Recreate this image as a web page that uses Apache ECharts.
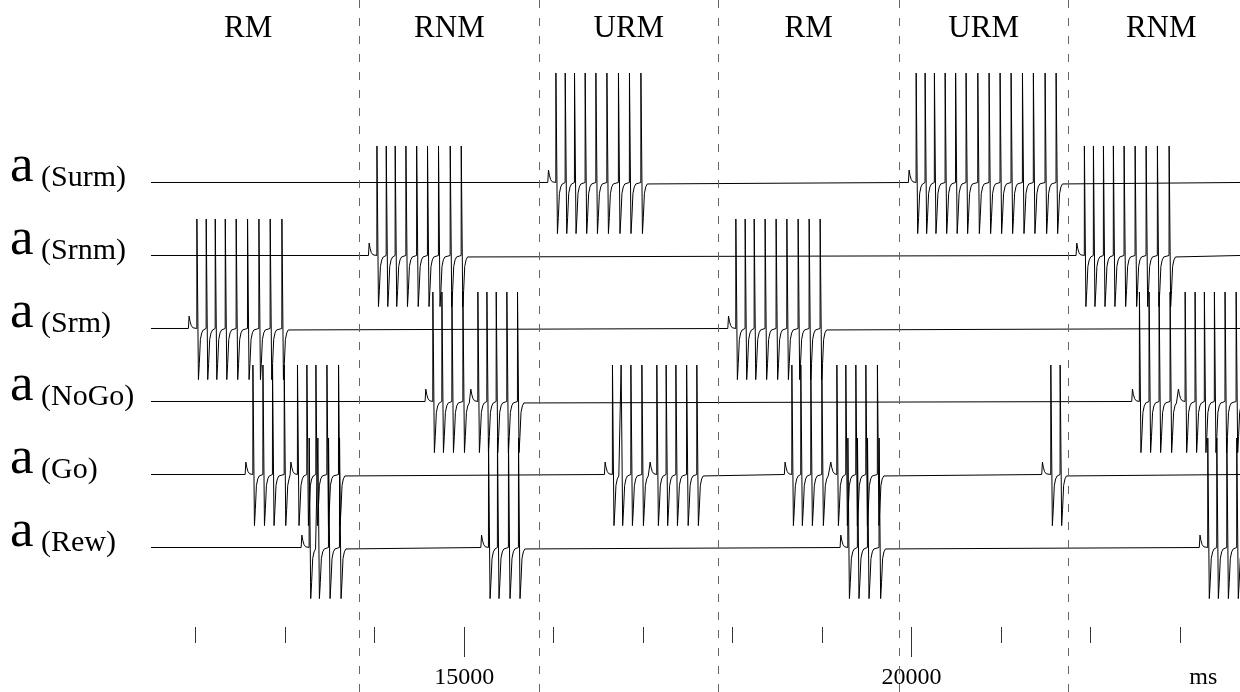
<!DOCTYPE html>
<html>
<head>
<meta charset="utf-8">
<script src="https://cdn.jsdelivr.net/npm/echarts@6/dist/echarts.min.js"></script>
<style>
  html, body { margin: 0; padding: 0; background: #fff; }
  #chart { width: 1240px; height: 692px; }
</style>
</head>
<body>
<div id="chart"></div>
<script>
//== time window (ms) shown on the x axis
var tStart = 11500;
var tEnd = 23670;

//== rows, top to bottom
var rowNames = ['Surm', 'Srnm', 'Srm', 'NoGo', 'Go', 'Rew'];

//== trials: names and their edges (ms)
var trialNames = ['RM', 'RNM', 'URM', 'RM', 'URM', 'RNM'];
var trialEdges = [11340, 13830, 15840, 17840, 19860, 21750, 23830];

//== axis ticks (ms)
var tickTimes = [12000, 13000, 14000, 15000, 16000, 17000, 18000, 19000, 20000, 21000, 22000, 23000];
var labelTimes = [15000, 20000];
var unitLabelTime = 23260;

//== spike times (ms), one list per row
var spikesSurm = [16024, 16128, 16232, 16351, 16471, 16594, 16723, 16846, 16974,
    20050, 20150, 20254, 20374, 20491, 20608, 20739, 20865, 20988, 21111, 21238, 21360, 21491, 21614];
var spikesSrnm = [14024, 14128, 14228, 14348, 14468, 14589, 14712, 14843, 14966,
    21930, 22031, 22143, 22254, 22374, 22497, 22620, 22746, 22877];
var spikesSrm = [12012, 12116, 12217, 12329, 12451, 12578, 12705, 12831, 12962,
    18035, 18139, 18240, 18362, 18485, 18605, 18731, 18854, 18977];
var spikesNoGo = [14649, 14750, 14862, 14985, 15152, 15253, 15357, 15476, 15595,
    22545, 22653, 22765, 22888, 23056, 23167, 23271, 23383, 23502, 23626];
var spikesGo = [12638, 12750, 12857, 12988, 13136, 13241, 13342, 13465, 13595,
    16656, 16753, 16862, 16985, 17152, 17256, 17365, 17485, 17599,
    18661, 18761, 18873, 18996, 19164, 19264, 19376, 19488, 19617,
    21555, 21659];
var spikesRew = [13267, 13364, 13483, 13606, 15271, 15371, 15494, 15606,
    19287, 19394, 19506, 19636, 23309, 23410, 23522, 23633];

//== small sub-threshold bumps (ms)
var bumpsSurm = [15934, 19964];
var bumpsSrnm = [13930, 21838];
var bumpsSrm = [11918, 17946];
var bumpsNoGo = [14563, 15066, 22460, 22974];
var bumpsGo = [12552, 13055, 16567, 17070, 18578, 19089, 21454];
var bumpsRew = [13178, 15186, 19201, 23215];

//== waveform of one spike and one bump: [ms after onset, height in row units]
var spikeShape = [[0, 0], [1, 1.5], [18, -0.7], [28, -0.48], [40, -0.15], [55, -0.06], [72, -0.02], [90, 0]];
var bumpShape = [[0, 0], [8, 0.17], [18, 0.1], [32, 0.04], [50, 0.01], [65, 0]];

var spikeLists = [spikesSurm, spikesSrnm, spikesSrm, spikesNoGo, spikesGo, spikesRew];
var bumpLists = [bumpsSurm, bumpsSrnm, bumpsSrm, bumpsNoGo, bumpsGo, bumpsRew];

// put the waveforms at every event time, one row at a time
var buildTrace = function (level, spikes, bumps) {
    var events = spikes.map(function (t) { return [t, spikeShape]; })
        .concat(bumps.map(function (t) { return [t, bumpShape]; }))
        .sort(function (a, b) { return a[0] - b[0]; });
    var pts = [[tStart, level]];
    var last = tStart;
    for (var i = 0; i < events.length; i++) {
        var t0 = events[i][0];
        var next = i + 1 < events.length ? events[i + 1][0] : Infinity;
        events[i][1].forEach(function (p) {
            if (t0 + p[0] < next) {
                pts.push([t0 + p[0], level + p[1]]);
                last = t0 + p[0];
            }
        });
    }
    pts.push([Math.max(tEnd, last + 1), level]);
    return pts;
};

var trialMids = [];
for (var k = 0; k < trialNames.length; k++) {
    trialMids.push((trialEdges[k] + trialEdges[k + 1]) / 2);
}
var boundaries = trialEdges.slice(1, trialEdges.length - 1);

var serif = 'Liberation Serif';
var nRows = rowNames.length;

var series = rowNames.map(function (name, i) {
    return {
        name: name,
        type: 'line',
        xAxisIndex: 0,
        yAxisIndex: 0,
        showSymbol: false,
        symbol: 'none',
        animation: false,
        clip: true,
        lineStyle: { color: '#000', width: 1 },
        data: buildTrace(nRows - 1 - i, spikeLists[i], bumpLists[i])
    };
});

// dashed trial boundaries over the whole picture
series.push({
    type: 'line',
    xAxisIndex: 3,
    yAxisIndex: 1,
    symbol: 'none',
    animation: false,
    lineStyle: { opacity: 0 },
    data: [[tStart, -1]],
    markLine: {
        silent: true,
        animation: false,
        symbol: ['none', 'none'],
        label: { show: false },
        lineStyle: { type: [8, 10], color: '#666', width: 1 },
        data: boundaries.map(function (b) { return { xAxis: b }; })
    }
});

var chart = echarts.init(document.getElementById('chart'));

chart.setOption({
    backgroundColor: '#fff',
    animation: false,
    grid: [
        { left: 151, right: 0, top: 60, bottom: 65 },
        { left: 151, right: 0, top: 0, bottom: 0 }
    ],
    xAxis: [{
        // short ticks every second
        gridIndex: 0, type: 'value', min: tStart, max: tEnd, position: 'bottom',
        axisLine: { show: false, onZero: false }, splitLine: { show: false },
        axisTick: { show: true, customValues: tickTimes, length: 16, lineStyle: { color: '#333', width: 1 } },
        axisLabel: { show: false }
    }, {
        // long ticks with labels
        gridIndex: 0, type: 'value', min: tStart, max: tEnd, position: 'bottom',
        axisLine: { show: false, onZero: false }, splitLine: { show: false },
        axisTick: { show: true, customValues: labelTimes, length: 30, lineStyle: { color: '#333', width: 1 } },
        axisLabel: {
            show: true,
            customValues: labelTimes.concat([unitLabelTime]),
            margin: 39,
            fontFamily: serif, fontSize: 24, color: '#000',
            formatter: function (v) { return v === unitLabelTime ? 'ms' : String(v); }
        }
    }, {
        // trial names on top
        gridIndex: 0, type: 'value', min: tStart, max: tEnd, position: 'top',
        axisLine: { show: false, onZero: false }, splitLine: { show: false }, axisTick: { show: false },
        axisLabel: {
            show: true,
            customValues: trialMids,
            margin: 16,
            fontFamily: serif, fontSize: 31, color: '#000',
            formatter: function (v) { return trialNames[trialMids.indexOf(v)]; }
        }
    }, {
        gridIndex: 1, type: 'value', min: tStart, max: tEnd, show: false
    }],
    yAxis: [{
        gridIndex: 0, type: 'value', min: -1.089, max: 6.678,
        axisLine: { show: false, onZero: false }, splitLine: { show: false }, axisTick: { show: false },
        axisLabel: {
            show: true,
            customValues: [0, 1, 2, 3, 4, 5],
            align: 'left',
            margin: 141,
            verticalAlign: 'middle',
            padding: [0, 0, 20, 0],
            formatter: function (v) {
                return '{a|a}{b| (' + rowNames[nRows - 1 - v] + ')}';
            },
            rich: {
                a: { fontFamily: serif, fontSize: 53, lineHeight: 42, color: '#000', verticalAlign: 'bottom' },
                b: { fontFamily: serif, fontSize: 30, lineHeight: 36, color: '#000', verticalAlign: 'bottom' }
            }
        }
    }, {
        gridIndex: 1, type: 'value', min: 0, max: 1, show: false
    }],
    series: series
});
</script>
</body>
</html>
